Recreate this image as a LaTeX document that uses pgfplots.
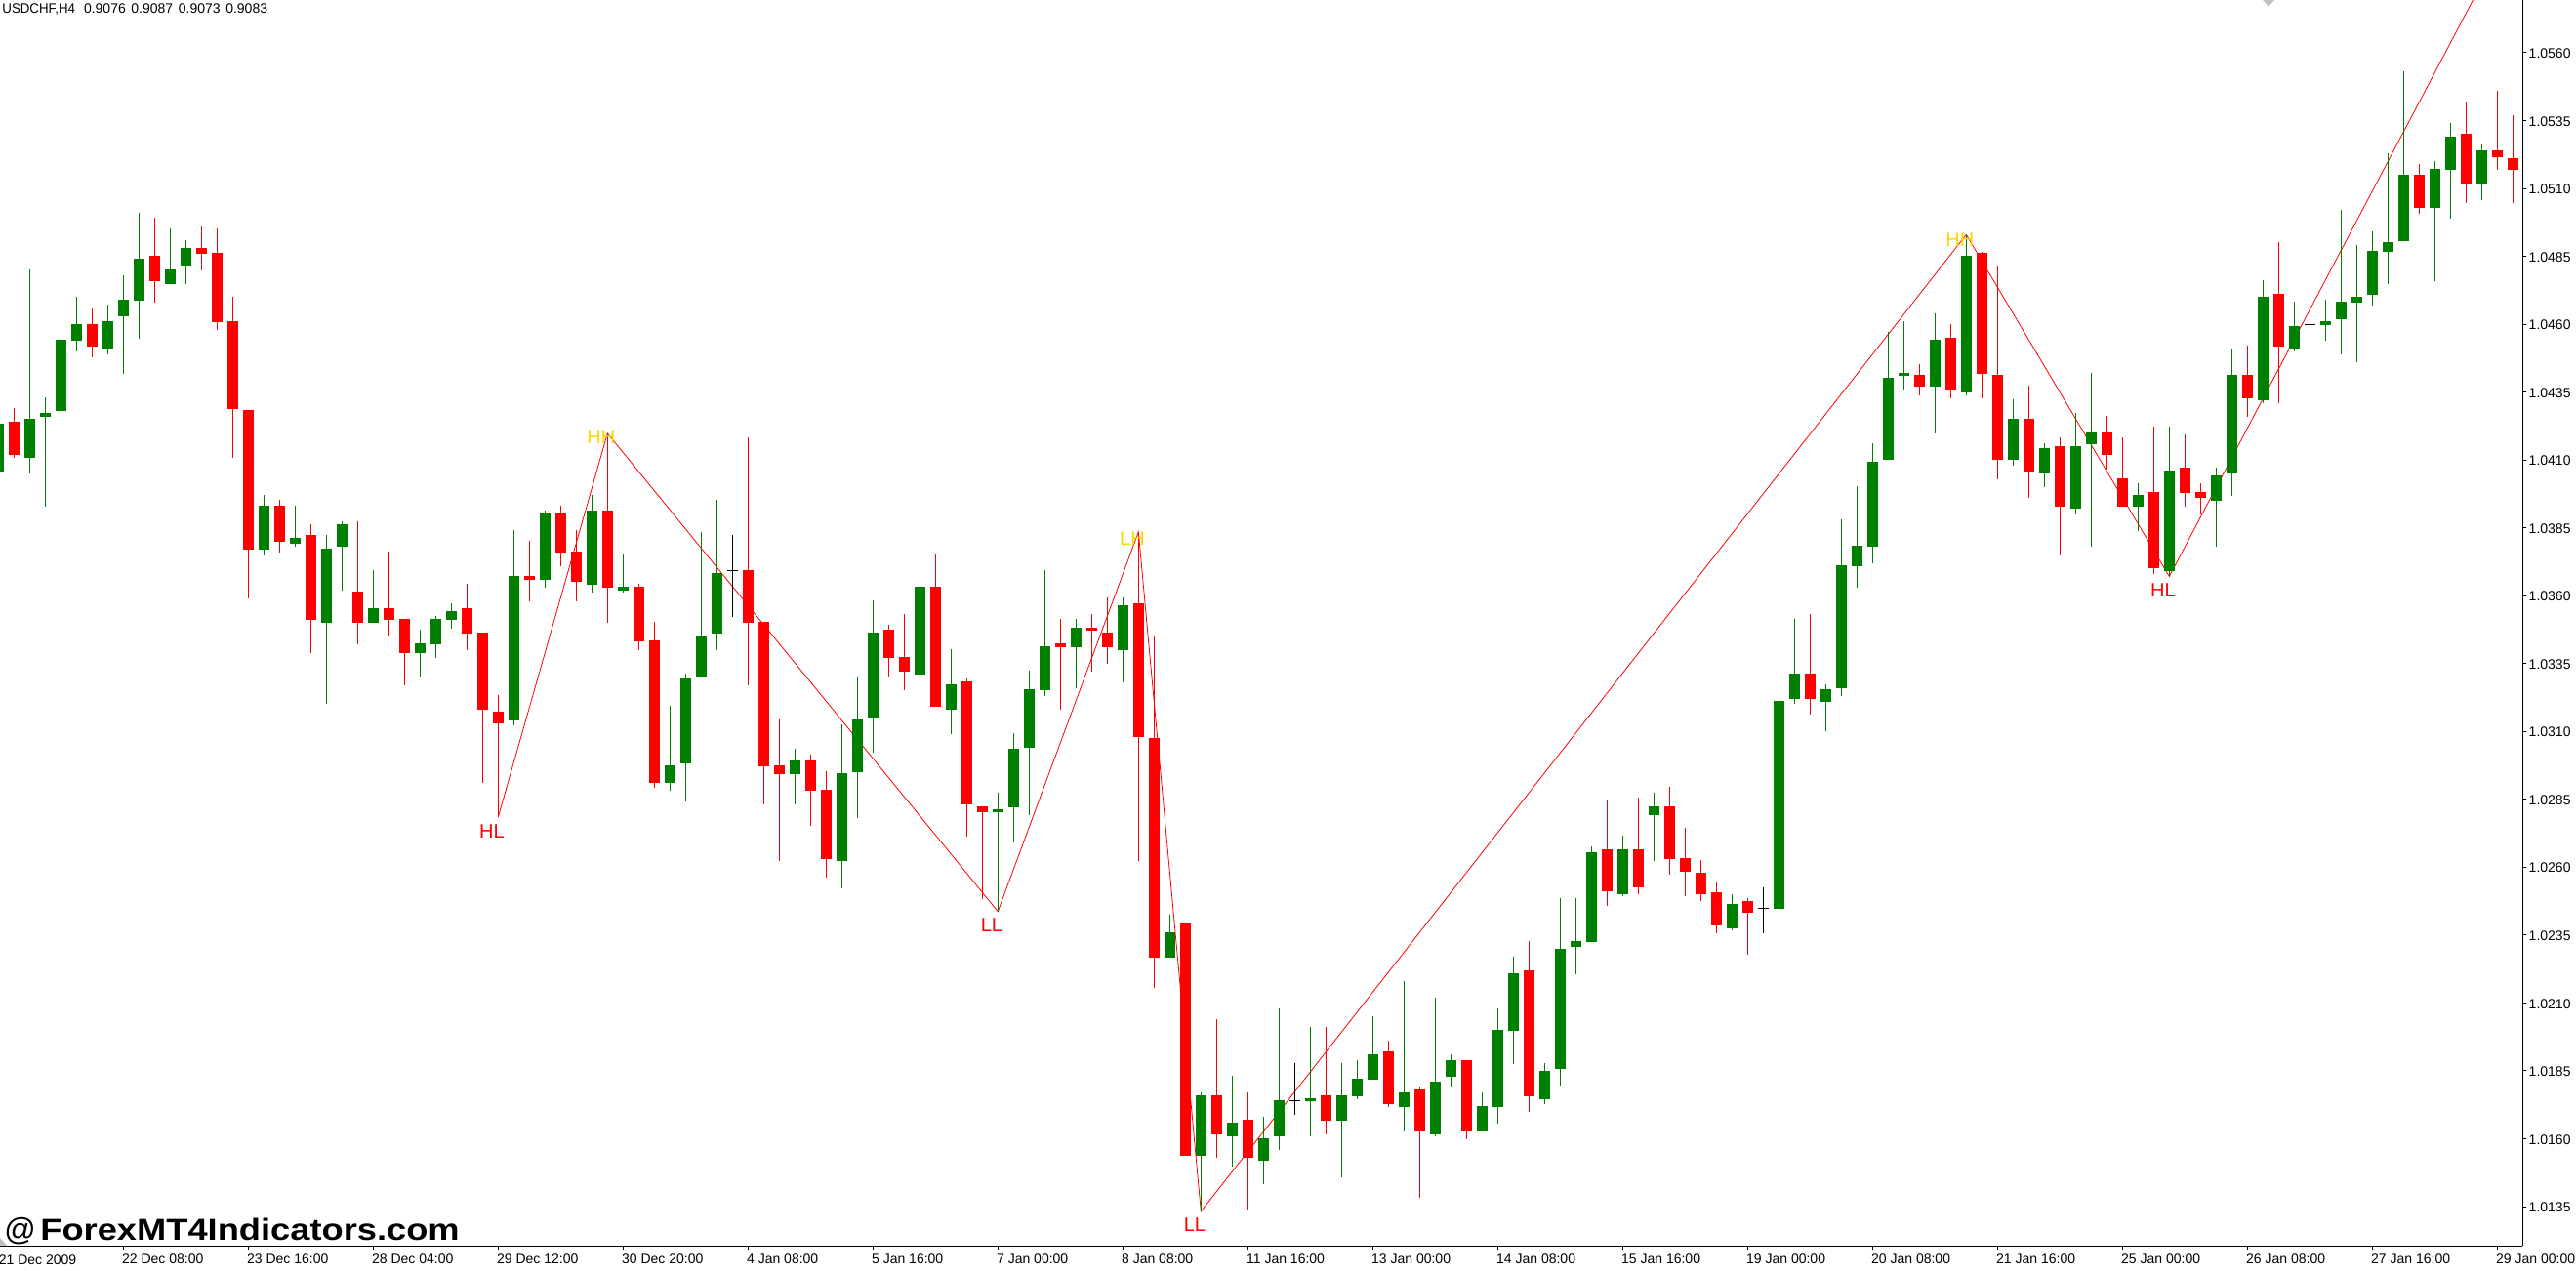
\documentclass[border=0pt]{standalone}
\usepackage{fontspec}
\setmainfont{Liberation Sans}
\usepackage{graphicx}
\usepackage{pgfplots}
\usepackage{pgfplotstable}
\pgfplotsset{compat=1.18}
\definecolor{cgreen}{HTML}{008000}
\definecolor{cred}{HTML}{FF0000}
\definecolor{cgold}{HTML}{FFD700}
\definecolor{cgrey}{HTML}{C0C0C0}
\newcommand{\sz}{\fontsize{7pt}{8pt}\selectfont}
\pgfplotstableread{
k hi top bot lo
-1 1.04235 1.04235 1.04058 1.04058
1 1.04803 1.04251 1.04107 1.04050
2 1.04330 1.04273 1.04259 1.03928
3 1.04611 1.04543 1.04281 1.04269
4 1.04702 1.04601 1.04540 1.04500
6 1.04672 1.04611 1.04507 1.04489
7 1.04781 1.04690 1.04629 1.04418
8 1.05011 1.04842 1.04687 1.04547
10 1.04953 1.04802 1.04748 1.04748
11 1.04910 1.04882 1.04816 1.04748
16 1.03972 1.03933 1.03771 1.03749
18 1.03933 1.03814 1.03792 1.03781
20 1.03824 1.03774 1.03500 1.03201
21 1.03875 1.03863 1.03781 1.03619
23 1.03695 1.03555 1.03500 1.03500
26 1.03475 1.03426 1.03389 1.03299
27 1.03525 1.03515 1.03421 1.03371
28 1.03573 1.03543 1.03512 1.03479
32 1.03842 1.03673 1.03140 1.03124
34 1.03914 1.03903 1.03659 1.03630
37 1.03972 1.03914 1.03640 1.03612
39 1.03753 1.03634 1.03619 1.03612
42 1.03195 1.02975 1.02911 1.02882
43 1.03313 1.03295 1.02982 1.02843
44 1.03835 1.03454 1.03299 1.03299
45 1.03953 1.03683 1.03461 1.03400
50 1.03036 1.02993 1.02943 1.02831
53 1.03125 1.02946 1.02622 1.02523
54 1.03302 1.03144 1.02951 1.02781
55 1.03583 1.03464 1.03151 1.03022
58 1.03784 1.03633 1.03309 1.03292
60 1.03403 1.03273 1.03180 1.03090
63 1.02874 1.02813 1.02803 1.02437
64 1.03094 1.03036 1.02821 1.02690
65 1.03325 1.03256 1.03040 1.02791
66 1.03694 1.03414 1.03252 1.03231
68 1.03515 1.03482 1.03410 1.03259
71 1.03593 1.03565 1.03400 1.03280
74 1.02426 1.02359 1.02266 1.02266
76 1.01771 1.01760 1.01538 1.01332
78 1.01832 1.01660 1.01610 1.01499
80 1.01682 1.01603 1.01520 1.01431
81 1.02079 1.01743 1.01610 1.01560
83 1.02011 1.01750 1.01739 1.01610
85 1.01879 1.01760 1.01667 1.01459
86 1.01889 1.01821 1.01757 1.01746
87 1.02051 1.01911 1.01818 1.01818
89 1.02180 1.01771 1.01717 1.01628
91 1.02119 1.01811 1.01617 1.01610
92 1.01911 1.01889 1.01829 1.01789
94 1.01771 1.01721 1.01628 1.01628
95 1.02079 1.02001 1.01717 1.01657
96 1.02269 1.02208 1.01997 1.01875
98 1.01879 1.01850 1.01746 1.01728
99 1.02488 1.02298 1.01857 1.01796
100 1.02488 1.02327 1.02305 1.02205
101 1.02678 1.02656 1.02323 1.02323
103 1.02717 1.02667 1.02502 1.02495
105 1.02875 1.02825 1.02793 1.02624
110 1.02499 1.02466 1.02373 1.02366
113 1.03235 1.03213 1.02445 1.02305
114 1.03515 1.03314 1.03220 1.03202
116 1.03274 1.03255 1.03208 1.03101
117 1.03882 1.03712 1.03260 1.03230
118 1.04004 1.03784 1.03709 1.03629
119 1.04162 1.04093 1.03781 1.03719
120 1.04570 1.04403 1.04101 1.04101
121 1.04611 1.04421 1.04410 1.04359
123 1.04641 1.04542 1.04371 1.04197
125 1.04930 1.04852 1.04349 1.04338
128 1.04324 1.04252 1.04101 1.04079
130 1.04162 1.04143 1.04051 1.03999
132 1.04274 1.04150 1.03922 1.03900
133 1.04421 1.04202 1.04158 1.03781
136 1.04014 1.03971 1.03927 1.03838
138 1.04222 1.04061 1.03691 1.03671
141 1.04071 1.04043 1.03949 1.03781
142 1.04510 1.04413 1.04051 1.03967
144 1.04762 1.04701 1.04321 1.04309
146 1.04683 1.04594 1.04507 1.04501
148 1.04691 1.04611 1.04597 1.04539
149 1.05021 1.04683 1.04619 1.04489
150 1.04892 1.04701 1.04680 1.04460
151 1.04942 1.04870 1.04708 1.04669
152 1.05230 1.04902 1.04867 1.04748
153 1.05532 1.05150 1.04906 1.04906
155 1.05201 1.05172 1.05028 1.04759
156 1.05341 1.05291 1.05168 1.04989
158 1.05262 1.05240 1.05118 1.05057
}\greentable
\pgfplotstableread{
k hi top bot lo
0 1.04291 1.04241 1.04119 1.04107
5 1.04662 1.04601 1.04519 1.04479
9 1.04992 1.04852 1.04758 1.04680
12 1.04959 1.04882 1.04859 1.04798
13 1.04953 1.04864 1.04608 1.04580
14 1.04702 1.04611 1.04287 1.04107
15 1.04284 1.04284 1.03771 1.03591
17 1.03954 1.03933 1.03799 1.03759
19 1.03863 1.03824 1.03512 1.03389
22 1.03875 1.03616 1.03500 1.03421
24 1.03763 1.03555 1.03512 1.03451
25 1.03515 1.03515 1.03389 1.03271
29 1.03644 1.03555 1.03460 1.03399
30 1.03464 1.03464 1.03180 1.02911
31 1.03234 1.03173 1.03130 1.02784
33 1.03802 1.03673 1.03659 1.03579
35 1.03933 1.03903 1.03759 1.03708
36 1.03842 1.03763 1.03652 1.03579
38 1.04198 1.03914 1.03630 1.03500
40 1.03644 1.03634 1.03432 1.03399
41 1.03504 1.03435 1.02911 1.02892
47 1.04183 1.03694 1.03501 1.03271
48 1.03504 1.03504 1.02972 1.02831
49 1.03144 1.02975 1.02943 1.02622
51 1.03015 1.02993 1.02882 1.02752
52 1.02953 1.02885 1.02629 1.02561
56 1.03492 1.03475 1.03370 1.03299
57 1.03532 1.03374 1.03320 1.03252
59 1.03752 1.03633 1.03191 1.03191
61 1.03295 1.03285 1.02831 1.02713
62 1.02824 1.02824 1.02803 1.02483
67 1.03515 1.03424 1.03410 1.03180
69 1.03532 1.03482 1.03471 1.03320
70 1.03593 1.03464 1.03410 1.03349
72 1.03835 1.03572 1.03080 1.02622
73 1.03454 1.03076 1.02266 1.02155
75 1.02398 1.02398 1.01538 1.01538
77 1.02040 1.01760 1.01617 1.01528
79 1.01771 1.01671 1.01528 1.01341
84 1.02011 1.01760 1.01667 1.01617
88 1.01961 1.01922 1.01728 1.01717
90 1.01793 1.01782 1.01628 1.01381
93 1.01889 1.01889 1.01628 1.01599
97 1.02327 1.02219 1.01757 1.01700
102 1.02846 1.02667 1.02513 1.02456
104 1.02857 1.02667 1.02524 1.02502
106 1.02896 1.02825 1.02631 1.02574
107 1.02746 1.02635 1.02585 1.02495
108 1.02628 1.02578 1.02502 1.02474
109 1.02545 1.02506 1.02384 1.02355
111 1.02488 1.02477 1.02434 1.02276
115 1.03533 1.03314 1.03220 1.03163
122 1.04453 1.04413 1.04371 1.04338
124 1.04601 1.04550 1.04359 1.04327
126 1.04868 1.04862 1.04418 1.04327
127 1.04814 1.04413 1.04101 1.04029
129 1.04374 1.04252 1.04058 1.03961
131 1.04183 1.04150 1.03927 1.03748
134 1.04262 1.04202 1.04118 1.04064
135 1.04183 1.04033 1.03927 1.03927
137 1.04222 1.03982 1.03701 1.03679
139 1.04195 1.04071 1.03979 1.03927
140 1.04014 1.03982 1.03961 1.03900
143 1.04522 1.04413 1.04327 1.04259
145 1.04902 1.04713 1.04517 1.04309
154 1.05190 1.05150 1.05028 1.05007
157 1.05420 1.05301 1.05118 1.05047
159 1.05460 1.05240 1.05215 1.05168
160 1.05370 1.05212 1.05168 1.05047
}\redtable
\pgfplotstableread{
k hi mid lo
46 1.03824 1.03693 1.03522
82 1.01879 1.01741 1.01689
112 1.02527 1.02447 1.02355
147 1.04723 1.04600 1.04507
}\dojitable
\pgfplotstableread{
k p
31 1.02784
38 1.04198
63 1.02437
72 1.03835
76 1.01332
125 1.04930
138 1.03671
160 1.06073
}\zigzag
\begin{document}
\begin{tikzpicture}
\path[use as bounding box] (0,0) rectangle (1319.5pt,650.5pt);
\begin{axis}[
  at={(0pt,12.35pt)},anchor=south west,
  scale only axis,width=1292.15pt,height=638.15pt,
  xmin=-0.89375,xmax=160.625,ymin=1.012051,ymax=1.057942,
  axis x line*=bottom,axis y line*=right,
  axis line style={-,line width=0.6pt,black},
  clip mode=individual,
  tick align=outside,major tick length=2pt,
  tick style={black,line width=0.5pt},
  xtick={7,15,23,31,39,47,55,63,71,79,87,95,103,111,119,127,135,143,151,159},
  xticklabels={22 Dec 08:00,23 Dec 16:00,28 Dec 04:00,29 Dec 12:00,30 Dec 20:00,4 Jan 08:00,5 Jan 16:00,7 Jan 00:00,8 Jan 08:00,11 Jan 16:00,13 Jan 00:00,14 Jan 08:00,15 Jan 16:00,19 Jan 00:00,20 Jan 08:00,21 Jan 16:00,25 Jan 00:00,26 Jan 08:00,27 Jan 16:00,29 Jan 00:00},
  xticklabel style={font=\sz,anchor=north west,inner sep=0pt,xshift=-0.8pt,yshift=-1.8pt},
  ytick={1.0135,1.0160,1.0185,1.0210,1.0235,1.0260,1.0285,1.0310,1.0335,1.0360,1.0385,1.0410,1.0435,1.0460,1.0485,1.0510,1.0535,1.0560},
  yticklabel style={font=\sz,anchor=west,inner sep=0pt,xshift=1pt,yshift=-0.4pt,
    /pgf/number format/.cd,fixed,fixed zerofill,precision=4,assume math mode=true},
  scaled y ticks=false,
]
% zigzag behind the candles
\addplot[cred,line width=0.4pt,forget plot] table[x=k,y=p]{\zigzag};
% wicks and bodies
\addplot[draw=none,mark=none,forget plot,error bars/.cd,y dir=minus,y explicit,error mark=none,
  error bar style={cgreen,line width=0.55pt}]
  table[x=k,y=hi,y error minus expr=\thisrow{hi}-\thisrow{lo}]{\greentable};
\addplot[draw=none,mark=none,forget plot,error bars/.cd,y dir=minus,y explicit,error mark=none,
  error bar style={cgreen,line width=5.5pt}]
  table[x=k,y=top,y error minus expr=\thisrow{top}-\thisrow{bot}]{\greentable};
\addplot[draw=none,mark=none,forget plot,error bars/.cd,y dir=minus,y explicit,error mark=none,
  error bar style={cred,line width=0.55pt}]
  table[x=k,y=hi,y error minus expr=\thisrow{hi}-\thisrow{lo}]{\redtable};
\addplot[draw=none,mark=none,forget plot,error bars/.cd,y dir=minus,y explicit,error mark=none,
  error bar style={cred,line width=5.5pt}]
  table[x=k,y=top,y error minus expr=\thisrow{top}-\thisrow{bot}]{\redtable};
\addplot[draw=none,mark=none,forget plot,error bars/.cd,y dir=minus,y explicit,error mark=none,
  error bar style={black,line width=0.55pt}]
  table[x=k,y=hi,y error minus expr=\thisrow{hi}-\thisrow{lo}]{\dojitable};
\addplot[only marks,mark=-,mark size=2.75pt,mark options={black,line width=0.55pt},forget plot]
  table[x=k,y=mid]{\dojitable};
% swing labels
\def\lab#1#2#3#4{\node[text=#4,font=\fontsize{10pt}{11pt}\selectfont,inner sep=0pt] at (axis cs:#1,#2) {#3};}
\lab{30.6}{1.027307}{HL}{cred}
\lab{37.6}{1.041833}{HH}{cgold}
\lab{62.6}{1.023856}{LL}{cred}
\lab{71.6}{1.038094}{LH}{cgold}
\lab{75.6}{1.012817}{LL}{cred}
\lab{124.6}{1.049096}{HH}{cgold}
\lab{137.6}{1.036206}{HL}{cred}
\end{axis}
\begin{scope}[x=0.5pt,y=-0.5pt,yshift=650.5pt]
\fill[cgrey] (2318,0) -- (2330,0) -- (2324,6.5) -- cycle;
\fill[cgrey] (0,1268) -- (7.5,1276) -- (0,1276) -- cycle;
\node[anchor=west,inner sep=0pt,font=\sz] at (-1.5,1290.5) {21 Dec 2009};
\node[anchor=west,inner sep=0pt,font=\sz] at (2,9.5) {\scalebox{.95}[1]{USDCHF,H4}\hspace{4.5pt}0.9076\hspace{2.8pt}0.9087\hspace{2.8pt}0.9073\hspace{2.8pt}0.9083};
\node[anchor=base west,inner sep=0pt,font=\fontsize{16pt}{18pt}\selectfont] at (4,1270) {@};
\node[anchor=base west,inner sep=0pt,font=\fontsize{15.5pt}{18pt}\selectfont\bfseries] at (41,1270.5) {\scalebox{1.17}[1]{ForexMT4Indicators.com}};
\end{scope}
\end{tikzpicture}
\end{document}
